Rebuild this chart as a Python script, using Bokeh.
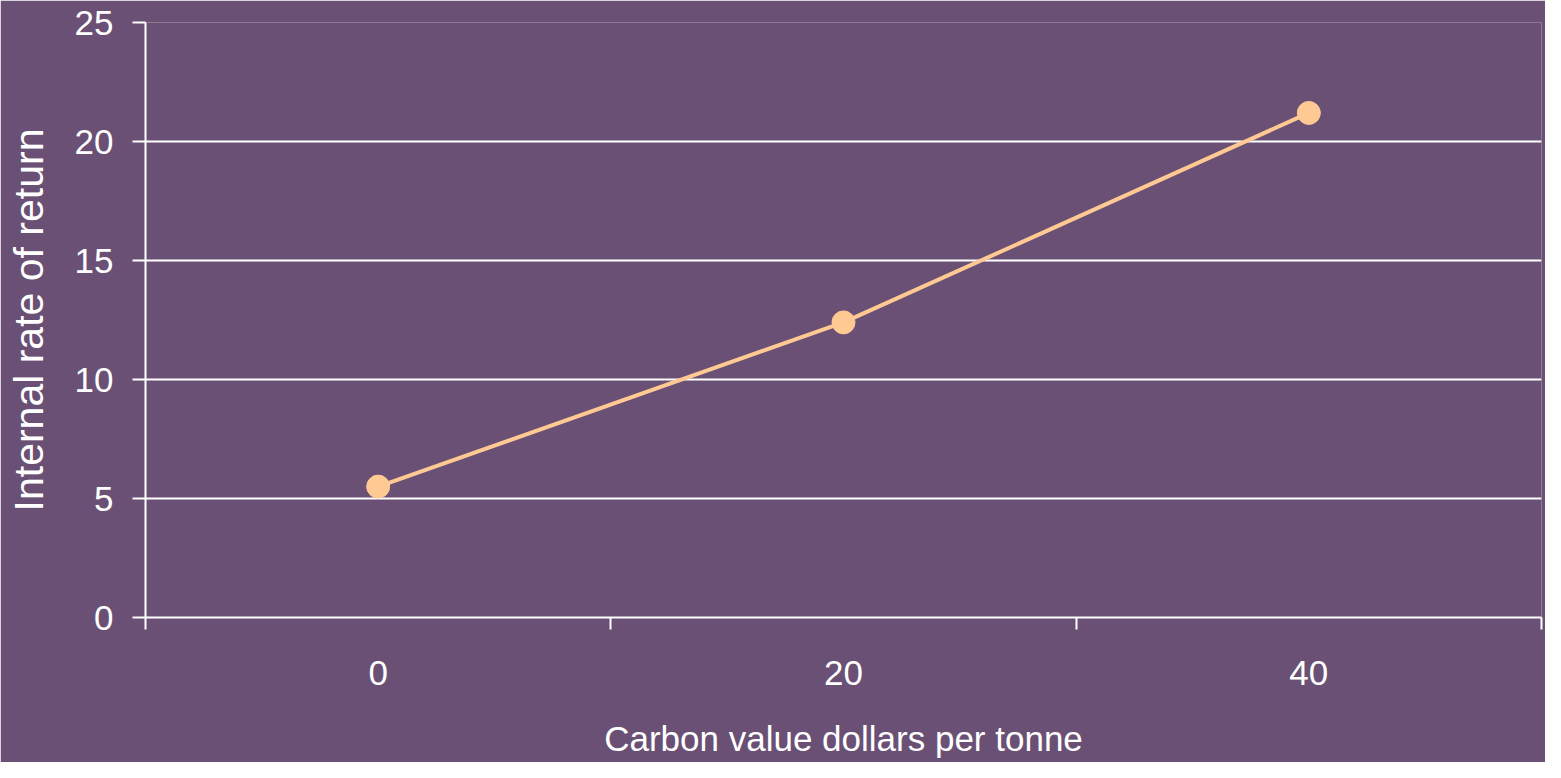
from bokeh.plotting import figure
from bokeh.models import Range1d, FixedTicker, ColumnDataSource
from bokeh.embed import file_html
from bokeh.resources import INLINE

# Data
carbon_value = [0, 20, 40]
irr = [5.5, 12.4, 21.2]
y_ticks = [0, 5, 10, 15, 20, 25]
x_ticks = [0, 20, 40]
x_boundaries = [-10, 10, 30, 50]

BG = "#6a5074"
FONT = "Liberation Sans"
LINE = "#ffc993"

src = ColumnDataSource(dict(x=carbon_value, y=irr))

p = figure(width=1545, height=762, output_backend="svg", toolbar_location=None,
           x_range=Range1d(-10, 50), y_range=Range1d(0, 25),
           min_border_left=145, min_border_right=4, min_border_top=22, min_border_bottom=145)

p.background_fill_color = BG
p.border_fill_color = BG
p.outline_line_color = None

p.line("x", "y", source=src, line_color=LINE, line_width=4)
p.scatter("x", "y", source=src, size=23, fill_color=LINE, line_color=LINE)

# grid
p.xgrid.grid_line_color = None
p.ygrid.ticker = FixedTicker(ticks=y_ticks)
p.ygrid.grid_line_color = "white"
p.ygrid.grid_line_width = 2

# x axis
xa = p.xaxis[0]
xa.ticker = FixedTicker(ticks=x_ticks, minor_ticks=x_boundaries)
xa.axis_line_color = "white"
xa.axis_line_width = 2
xa.major_tick_line_color = None
xa.major_tick_out = 0
xa.major_tick_in = 0
xa.minor_tick_line_color = "white"
xa.minor_tick_line_width = 2
xa.minor_tick_out = 12
xa.minor_tick_in = 0
xa.major_label_text_color = "white"
xa.major_label_text_font = FONT
xa.major_label_text_font_size = "35px"
xa.major_label_standoff = 31
xa.axis_label = "Carbon value dollars per tonne"
xa.axis_label_text_color = "white"
xa.axis_label_text_font = FONT
xa.axis_label_text_font_size = "35px"
xa.axis_label_text_font_style = "normal"
xa.axis_label_standoff = 31

# y axis
ya = p.yaxis[0]
ya.ticker = FixedTicker(ticks=y_ticks)
ya.axis_line_color = "white"
ya.axis_line_width = 2
ya.major_tick_line_color = "white"
ya.major_tick_line_width = 2
ya.major_tick_out = 13
ya.major_tick_in = 0
ya.minor_tick_line_color = None
ya.major_label_text_color = "white"
ya.major_label_text_font = FONT
ya.major_label_text_font_size = "35px"
ya.major_label_standoff = 19
ya.axis_label = "Internal rate of return"
ya.axis_label_text_color = "white"
ya.axis_label_text_font = FONT
ya.axis_label_text_font_size = "41px"
ya.axis_label_text_font_style = "normal"
ya.axis_label_standoff = 20

open("out.html", "w").write(file_html(p, INLINE))
